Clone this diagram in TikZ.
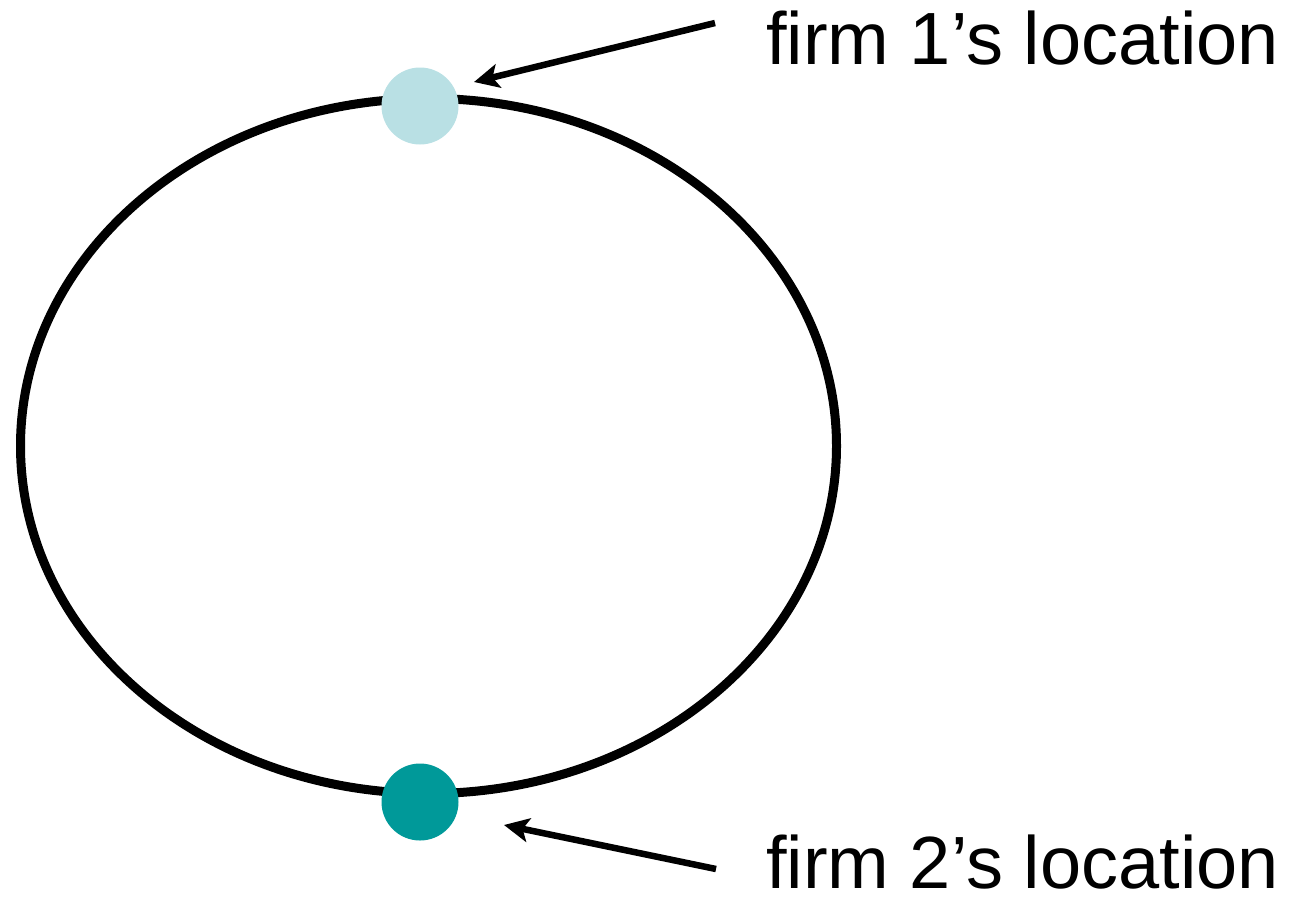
\documentclass[tikz,border=0pt]{standalone}
\usepackage{fontspec}
\setmainfont{Liberation Sans}
\usetikzlibrary{arrows.meta}
\definecolor{firmone}{HTML}{B9E0E4}
\definecolor{firmtwo}{HTML}{009999}
\begin{document}
\begin{tikzpicture}[x=1pt,y=-1pt,
  firmdot/.style={circle,inner sep=0pt,minimum size=77pt,draw=none},
  pointer/.style={line width=6.5pt,-{Stealth[length=25pt,width=24pt,inset=6pt]}},
  label/.style={anchor=base west,inner sep=0pt,font=\fontsize{74}{80}\selectfont}]
\useasboundingbox (0,0) rectangle (1297,897);
\draw[line width=9pt] (428.5,446) ellipse [x radius=408, y radius=347.5];
\node[firmdot,fill=firmone] (f1) at (420,106) {};
\node[firmdot,fill=firmtwo] (f2) at (420,802) {};
\node[label] (t1) at (766,64) {firm 1’s location};
\node[label] (t2) at (766,888) {firm 2’s location};
\coordinate (s1) at (715,23);
\coordinate (e1) at (474,82);
\coordinate (s2) at (716,869);
\coordinate (e2) at (504,825);
\draw[pointer] (s1) -- (e1);
\draw[pointer] (s2) -- (e2);
\end{tikzpicture}
\end{document}
